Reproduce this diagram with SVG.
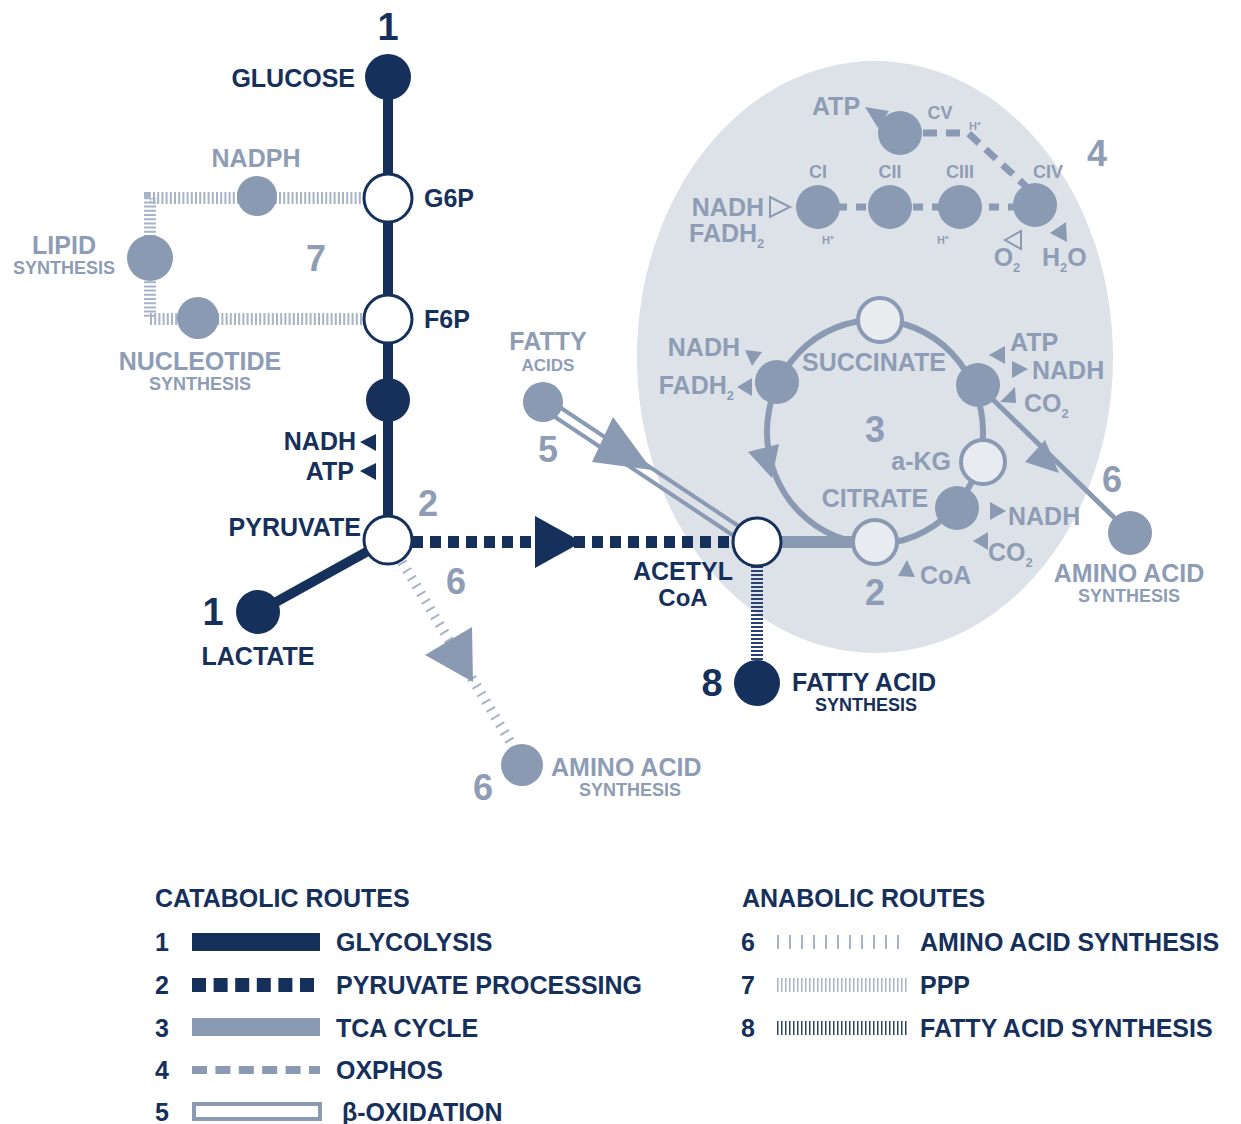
<svg xmlns="http://www.w3.org/2000/svg" width="1241" height="1124" viewBox="0 0 1241 1124">
<style>
text{font-family:"Liberation Sans",Arial,sans-serif;font-weight:bold}
.n{fill:#16305c}
.g{fill:#8e9db5}
.lbl{font-size:25px}
.sm{font-size:18px}
.xs{font-size:17px}
.tiny{font-size:11px}
.num{font-size:38px}
.gnum{font-size:36px;fill:#8e9db5}
.dk{fill:#16305c}
.wn{fill:#fff;stroke:#16305c;stroke-width:3}
.gn{fill:#8a9ab3}
.wg{fill:#e8ebf0;stroke:#8a9ab3;stroke-width:4}
.tri{fill:#8a9ab3}
</style>
<rect width="1241" height="1124" fill="#fff"/>
<ellipse cx="875" cy="357" rx="238" ry="296" fill="#dde2e8"/>

<g id="connectors">
  <path d="M365,198 H150 V319 H365" fill="none" stroke="#a7b3c6" stroke-width="12" stroke-dasharray="2 2.2"/>
  <line x1="402" y1="562" x2="514" y2="748" stroke="#a7b3c6" stroke-width="10" stroke-dasharray="2 7"/>
  <line x1="388" y1="77" x2="388" y2="540" stroke="#16305c" stroke-width="10"/>
  <line x1="388" y1="540" x2="258" y2="612" stroke="#16305c" stroke-width="10"/>
  <line x1="412" y1="542" x2="734" y2="542" stroke="#16305c" stroke-width="12" stroke-dasharray="11 7"/>
  <polygon points="535,516 582,542 535,568" fill="#16305c"/>
  <line x1="757" y1="566" x2="757" y2="662" stroke="#2a4170" stroke-width="12" stroke-dasharray="2 2"/>
  <line x1="540" y1="407" x2="734" y2="536" stroke="#8a9ab3" stroke-width="4"/>
  <line x1="546" y1="398" x2="740" y2="527" stroke="#8a9ab3" stroke-width="4"/>
  <polygon points="613,417 592,462 652,470" fill="#8a9ab3"/>
  <line x1="780" y1="542" x2="860" y2="542" stroke="#8a9ab3" stroke-width="12"/>
  <ellipse cx="875" cy="432" rx="108" ry="112" fill="none" stroke="#8a9ab3" stroke-width="6"/>
  <polygon points="748,452 779,444 772,478" fill="#8a9ab3"/>
  <line x1="978" y1="385" x2="1130" y2="533" stroke="#8a9ab3" stroke-width="5"/>
  <polygon points="1045,440 1025,462 1059,473" fill="#8a9ab3"/>
  <line x1="818" y1="207" x2="1035" y2="207" stroke="#8a9ab3" stroke-width="7" stroke-dasharray="10 9"/>
  <path d="M900,133 H968 L1030,190" fill="none" stroke="#8a9ab3" stroke-width="7" stroke-dasharray="14 9"/>
</g>

<g id="glucose"><circle cx="388" cy="77" r="23" class="dk"/><text x="388" y="40" class="n num" text-anchor="middle">1</text><text x="355" y="87" class="n lbl" text-anchor="end">GLUCOSE</text></g>
<g id="g6p"><circle cx="388" cy="198" r="24" class="wn"/><text x="424" y="207" class="n lbl">G6P</text></g>
<g id="f6p"><circle cx="388" cy="319" r="24" class="wn"/><text x="424" y="328" class="n lbl">F6P</text></g>
<g id="glyc-mid"><circle cx="388" cy="400" r="22" class="dk"/>
  <text x="356" y="450" class="n lbl" text-anchor="end">NADH</text><polygon points="360,442 376,434 376,451" fill="#16305c"/>
  <text x="354" y="480" class="n lbl" text-anchor="end">ATP</text><polygon points="360,471 376,463 376,480" fill="#16305c"/></g>
<g id="pyruvate"><circle cx="388" cy="540" r="24" class="wn"/><text x="361" y="536" class="n lbl" text-anchor="end">PYRUVATE</text>
  <text x="428" y="516" class="gnum" text-anchor="middle">2</text><text x="456" y="594" class="gnum" text-anchor="middle">6</text></g>
<g id="lactate"><circle cx="258" cy="612" r="22" class="dk"/><text x="213" y="625" class="n num" text-anchor="middle">1</text><text x="258" y="665" class="n lbl" text-anchor="middle">LACTATE</text></g>

<g id="nadph"><circle cx="257" cy="196" r="20" class="gn"/><text x="256" y="167" class="g lbl" text-anchor="middle">NADPH</text></g>
<g id="lipid"><circle cx="150" cy="258" r="23" class="gn"/><text x="64" y="254" class="g lbl" text-anchor="middle">LIPID</text><text x="64" y="274" class="g sm" text-anchor="middle">SYNTHESIS</text></g>
<g id="nucleotide"><circle cx="198" cy="318" r="21" class="gn"/><text x="200" y="370" class="g lbl" text-anchor="middle">NUCLEOTIDE</text><text x="200" y="390" class="g sm" text-anchor="middle">SYNTHESIS</text></g>
<text x="316" y="271" class="gnum" text-anchor="middle">7</text>

<g id="amino-lower"><polygon points="425,655 472,627 473,682" fill="#8a9ab3"/><circle cx="522" cy="765" r="21" class="gn"/>
  <text x="551" y="776" class="g lbl">AMINO ACID</text><text x="630" y="796" class="g sm" text-anchor="middle">SYNTHESIS</text>
  <text x="483" y="800" class="gnum" text-anchor="middle">6</text></g>

<g id="fatty-acids"><circle cx="543" cy="402" r="20" class="gn"/><text x="548" y="350" class="g lbl" text-anchor="middle">FATTY</text><text x="548" y="371" class="g xs" text-anchor="middle">ACIDS</text>
  <text x="548" y="462" class="gnum" text-anchor="middle">5</text></g>

<g id="acetyl-coa"><circle cx="757" cy="542" r="24" class="wn"/><text x="683" y="580" class="n lbl" text-anchor="middle">ACETYL</text><text x="683" y="606" class="n" font-size="24" text-anchor="middle">CoA</text></g>
<g id="fatty-acid-synthesis"><circle cx="757" cy="683" r="23" class="dk"/><text x="712" y="696" class="n num" text-anchor="middle">8</text>
  <text x="792" y="691" class="n lbl">FATTY ACID</text><text x="866" y="711" class="n sm" text-anchor="middle">SYNTHESIS</text></g>

<g id="tca-top"><circle cx="880" cy="320" r="22" class="wg"/></g>
<g id="tca-succ"><circle cx="777" cy="382" r="22" class="gn"/>
  <text x="740" y="356" class="g lbl" text-anchor="end">NADH</text><polygon points="745,350 762,352 752,366" class="tri"/>
  <text x="734" y="394" class="g lbl" text-anchor="end">FADH<tspan font-size="13" dy="6">2</tspan></text><polygon points="737,387 752,378 752,396" class="tri"/>
  <text x="874" y="371" class="g lbl" text-anchor="middle">SUCCINATE</text></g>
<g id="tca-right"><circle cx="978" cy="385" r="22" class="gn"/>
  <polygon points="989,355 1005,346 1005,364" class="tri"/><text x="1010" y="351" class="g lbl">ATP</text>
  <polygon points="1028,369 1012,361 1012,378" class="tri"/><text x="1032" y="379" class="g lbl">NADH</text>
  <polygon points="1000,402 1015,387 1016,403" class="tri"/><text x="1024" y="412" class="g lbl">CO<tspan font-size="13" dy="6">2</tspan></text></g>
<text x="875" y="442" class="gnum" text-anchor="middle">3</text>
<g id="tca-akg"><circle cx="983" cy="462" r="22" class="wg"/><text x="951" y="470" class="g lbl" text-anchor="end">a-KG</text></g>
<g id="tca-citrate-dark"><circle cx="957" cy="508" r="22" class="gn"/>
  <polygon points="990,502 1006,511 990,520" class="tri"/><text x="1008" y="525" class="g lbl">NADH</text>
  <polygon points="973,541 988,532 988,550" class="tri"/><text x="988" y="561" class="g lbl">CO<tspan font-size="13" dy="6">2</tspan></text></g>
<g id="tca-citrate"><circle cx="875" cy="542" r="22" class="wg"/><text x="875" y="507" class="g lbl" text-anchor="middle">CITRATE</text>
  <polygon points="898,576 907,560 915,577" class="tri"/><text x="920" y="584" class="g lbl">CoA</text>
  <text x="875" y="605" class="gnum" text-anchor="middle">2</text></g>
<g id="amino-right"><circle cx="1130" cy="533" r="22" class="gn"/><text x="1112" y="492" class="gnum" text-anchor="middle">6</text>
  <text x="1129" y="582" class="g lbl" text-anchor="middle">AMINO ACID</text><text x="1129" y="602" class="g sm" text-anchor="middle">SYNTHESIS</text></g>

<g id="ci"><circle cx="818" cy="207" r="22" class="gn"/><text x="818" y="178" class="g sm" text-anchor="middle">CI</text>
  <polygon points="770,197 790,207 770,217" fill="none" stroke="#8a9ab3" stroke-width="2"/>
  <text x="764" y="216" class="g lbl" text-anchor="end">NADH</text><text x="689" y="242" class="g lbl">FADH<tspan font-size="13" dy="6">2</tspan></text>
  <text x="828" y="244" class="g tiny" text-anchor="middle">H⁺</text></g>
<g id="cii"><circle cx="890" cy="207" r="22" class="gn"/><text x="890" y="178" class="g sm" text-anchor="middle">CII</text></g>
<g id="ciii"><circle cx="960" cy="207" r="22" class="gn"/><text x="960" y="178" class="g sm" text-anchor="middle">CIII</text><text x="943" y="244" class="g tiny" text-anchor="middle">H⁺</text></g>
<g id="civ"><circle cx="1035" cy="205" r="22" class="gn"/><text x="1048" y="178" class="g sm" text-anchor="middle">CIV</text>
  <polygon points="1005,240 1021,231 1021,249" fill="none" stroke="#8a9ab3" stroke-width="2"/>
  <text x="1007" y="266" class="g lbl" text-anchor="middle">O<tspan font-size="13" dy="6">2</tspan></text>
  <polygon points="1050,233 1066,222 1067,242" class="tri"/>
  <text x="1042" y="266" class="g lbl">H<tspan font-size="13" dy="6">2</tspan><tspan dy="-6">O</tspan></text></g>
<g id="cv"><circle cx="900" cy="133" r="22" class="gn"/><text x="940" y="119" class="g sm" text-anchor="middle">CV</text>
  <text x="975" y="130" class="g tiny" text-anchor="middle">H⁺</text>
  <text x="836" y="115" class="g lbl" text-anchor="middle">ATP</text><polygon points="865,107 889,111 878,128" class="tri"/></g>
<text x="1097" y="166" class="gnum" text-anchor="middle">4</text>

<g id="legend-catabolic">
  <text x="155" y="907" class="n lbl">CATABOLIC ROUTES</text>
  <text x="162" y="951" class="n lbl" text-anchor="middle">1</text><rect x="192" y="933" width="128" height="18" fill="#16305c"/><text x="336" y="951" class="n lbl">GLYCOLYSIS</text>
  <text x="162" y="994" class="n lbl" text-anchor="middle">2</text><line x1="192" y1="985" x2="320" y2="985" stroke="#16305c" stroke-width="14" stroke-dasharray="14 7.6"/><text x="336" y="994" class="n lbl">PYRUVATE PROCESSING</text>
  <text x="162" y="1037" class="n lbl" text-anchor="middle">3</text><rect x="192" y="1018" width="128" height="18" fill="#8a9ab3"/><text x="336" y="1037" class="n lbl">TCA CYCLE</text>
  <text x="162" y="1079" class="n lbl" text-anchor="middle">4</text><line x1="192" y1="1070" x2="320" y2="1070" stroke="#8a9ab3" stroke-width="8" stroke-dasharray="15 8.4"/><text x="336" y="1079" class="n lbl">OXPHOS</text>
  <text x="162" y="1121" class="n lbl" text-anchor="middle">5</text><rect x="194" y="1104" width="126" height="15" fill="#fff" stroke="#8a9ab3" stroke-width="4"/><text x="342" y="1121" class="n lbl">β-OXIDATION</text>
</g>
<g id="legend-anabolic">
  <text x="742" y="907" class="n lbl">ANABOLIC ROUTES</text>
  <text x="748" y="951" class="n lbl" text-anchor="middle">6</text><line x1="777" y1="942" x2="908" y2="942" stroke="#a7b3c6" stroke-width="14" stroke-dasharray="2 10"/><text x="920" y="951" class="n lbl">AMINO ACID SYNTHESIS</text>
  <text x="748" y="994" class="n lbl" text-anchor="middle">7</text><line x1="777" y1="985" x2="908" y2="985" stroke="#a7b3c6" stroke-width="14" stroke-dasharray="1.5 2.5"/><text x="920" y="994" class="n lbl">PPP</text>
  <text x="748" y="1037" class="n lbl" text-anchor="middle">8</text><line x1="777" y1="1028" x2="908" y2="1028" stroke="#2a4170" stroke-width="14" stroke-dasharray="1.5 2.5"/><text x="920" y="1037" class="n lbl">FATTY ACID SYNTHESIS</text>
</g>
</svg>
